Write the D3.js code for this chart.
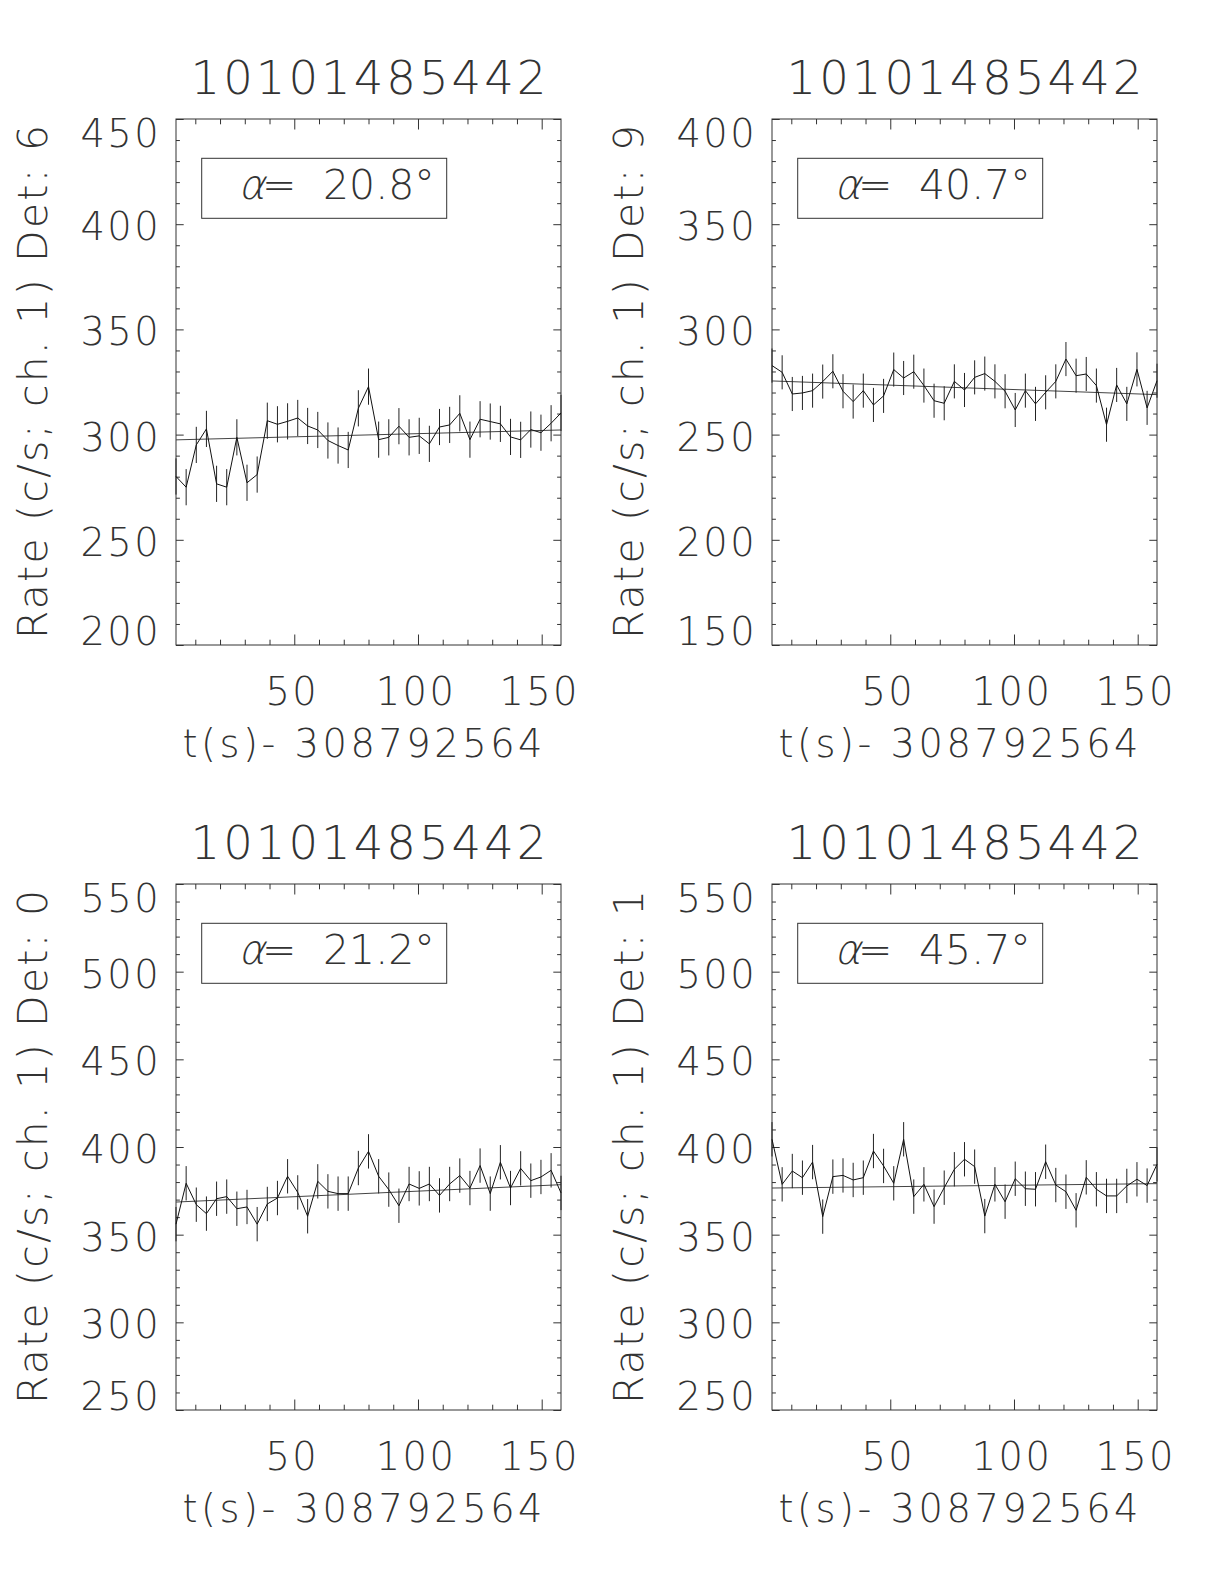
<!DOCTYPE html>
<html><head><meta charset="utf-8">
<script src="https://cdn.jsdelivr.net/npm/d3@7"></script>
<style>
html,body{margin:0;padding:0;background:#fff;}
svg text{font-family:"DejaVu Sans",sans-serif;font-weight:200;fill:#333;}
</style></head><body>
<svg id="chart" width="1224" height="1584"></svg>
<script>
// ---------------- data ----------------
const times = [2.2, 6.3, 10.4, 14.5, 18.6, 22.7, 26.8, 30.9, 35.0, 39.1, 43.2, 47.3, 51.4, 55.4, 59.5, 63.6, 67.7, 71.8, 75.9, 80.0,
  84.1, 88.2, 92.3, 96.4, 100.5, 104.6, 108.7, 112.8, 116.9, 121.0, 125.1, 129.2, 133.3, 137.4, 141.5, 145.6, 149.7, 153.8, 157.8];
const rateDet6 = [280.1, 275.0, 295.1, 302.7, 276.6, 275.0, 298.7, 277.1, 281.0, 306.6, 304.9, 306.3, 307.9, 304.1, 302.2, 297.2, 294.8, 292.7, 312.5, 322.8,
  297.6, 298.7, 304.0, 298.7, 299.4, 295.6, 303.6, 304.6, 310.1, 297.6, 307.3, 306.2, 305.1, 298.9, 297.5, 302.4, 300.9, 305.4, 310.3];
const rateDet9 = [282.8, 279.6, 269.3, 269.8, 270.9, 275.2, 280.1, 270.6, 265.7, 270.9, 264.1, 268.4, 280.9, 276.9, 279.9, 273.3, 266.1, 264.9, 275.3, 271.2,
  277.2, 279.0, 275.3, 270.6, 261.7, 270.9, 264.6, 270.1, 275.3, 285.9, 278.0, 278.8, 273.3, 254.7, 273.6, 264.6, 281.0, 262.7, 275.6];
const rateDet0 = [356.0, 379.3, 367.1, 362.0, 370.5, 371.7, 364.8, 365.8, 356.0, 367.5, 370.9, 383.3, 374.1, 360.5, 380.4, 374.7, 373.4, 373.4, 388.0, 397.5,
  383.3, 375.7, 366.5, 378.9, 376.4, 378.9, 372.4, 378.9, 383.7, 376.6, 389.4, 373.4, 391.3, 376.6, 387.8, 380.8, 382.9, 386.7, 373.8];
const rateDet1 = [404.4, 378.7, 386.3, 382.5, 391.4, 360.3, 383.1, 383.8, 381.2, 382.5, 397.7, 389.2, 379.3, 404.4, 371.7, 378.7, 366.0, 376.8, 387.3, 393.0,
  388.8, 360.6, 378.7, 368.8, 381.9, 376.2, 375.9, 391.6, 378.3, 374.5, 363.9, 382.7, 375.9, 372.1, 372.1, 377.8, 381.6, 378.0, 390.1];
const errHalf = [8.6, 8.1, 9.8, 9.8];
const fitStart = [297.5, 275.5, 368.6, 376.6];
const fitEnd = [302.2, 269.0, 378.5, 379.1];
const titles = ["10101485442", "10101485442", "10101485442", "10101485442"];
const detectors = ["6", "9", "0", "1"];
const alphas = ["20.8", "40.7", "21.2", "45.7"];
const yMin = [200, 150, 250, 250];
const yMax = [450, 400, 550, 550];
const yTickLabels = [[200, 250, 300, 350, 400, 450], [150, 200, 250, 300, 350, 400],
  [250, 300, 350, 400, 450, 500, 550], [250, 300, 350, 400, 450, 500, 550]];
const xTickLabels = [50, 100, 150];
const xLabel = "t(s)- 308792564";
const seriesList = [rateDet6, rateDet9, rateDet0, rateDet1];

// ---------------- layout ----------------
const W = 385, H = 526;
const origins = [[176, 119], [772, 119], [176, 884], [772, 884]];
const svg = d3.select("#chart");
svg.append("rect").attr("width", 1224).attr("height", 1584).attr("fill", "#fff");

seriesList.forEach((vals, p) => {
  const [L, T] = origins[p];
  const g = svg.append("g").attr("transform", `translate(${L},${T})`);
  const x = d3.scaleLinear().domain([times[0], times[times.length - 1]]).range([0, W]);
  const y = d3.scaleLinear().domain([yMin[p], yMax[p]]).range([H, 0]);

  const xMinor = d3.range(10, times[times.length - 1], 10).filter(v => v % 50 !== 0 && v > times[0]);
  const yMinor = d3.range(yMin[p] + 10, yMax[p], 10).filter(v => v % 50 !== 0);
  const yMajor = yTickLabels[p];

  const axStyle = sel => {
    sel.select(".domain").remove();
    sel.selectAll("line").attr("stroke", "#333").attr("stroke-width", 1);
  };
  g.append("g").attr("transform", `translate(0,${H})`).call(d3.axisBottom(x).tickValues(xMinor).tickSize(-5.3).tickFormat("")).call(axStyle);
  g.append("g").attr("transform", `translate(0,${H})`).call(d3.axisBottom(x).tickValues(xTickLabels).tickSize(-10.5).tickFormat("")).call(axStyle);
  g.append("g").call(d3.axisTop(x).tickValues(xMinor).tickSize(-5.3).tickFormat("")).call(axStyle);
  g.append("g").call(d3.axisTop(x).tickValues(xTickLabels).tickSize(-10.5).tickFormat("")).call(axStyle);
  g.append("g").call(d3.axisLeft(y).tickValues(yMinor).tickSize(-3.9).tickFormat("")).call(axStyle);
  g.append("g").call(d3.axisLeft(y).tickValues(yMajor).tickSize(-7.7).tickFormat("")).call(axStyle);
  g.append("g").attr("transform", `translate(${W},0)`).call(d3.axisRight(y).tickValues(yMinor).tickSize(-3.9).tickFormat("")).call(axStyle);
  g.append("g").attr("transform", `translate(${W},0)`).call(d3.axisRight(y).tickValues(yMajor).tickSize(-7.7).tickFormat("")).call(axStyle);

  g.append("rect").attr("x", 0).attr("y", 0).attr("width", W).attr("height", H)
    .attr("fill", "none").attr("stroke", "#333").attr("stroke-width", 1);

  // y tick labels
  g.selectAll(".ylab").data(yMajor).join("text")
    .attr("class", "ylab")
    .attr("text-anchor", "end")
    .attr("x", -15)
    .attr("y", v => { let c = y(v) + 2; c = Math.max(14, Math.min(H - 14, c)); return c + 14; })
    .style("font-size", "38.4px").style("letter-spacing", "2.4px")
    .text(v => v);

  // x tick labels
  g.selectAll(".xlab").data(xTickLabels).join("text")
    .attr("class", "xlab")
    .attr("text-anchor", "middle")
    .attr("x", v => x(v) - 2)
    .attr("y", H + 60)
    .style("font-size", "38.4px").style("letter-spacing", "2.4px")
    .text(v => v);

  // x axis title
  g.append("text").attr("text-anchor", "middle").attr("x", 186.5).attr("y", H + 112)
    .attr("textLength", 360).attr("lengthAdjust", "spacing")
    .style("font-size", "38.4px").text(xLabel);

  // y axis title
  g.append("text").attr("text-anchor", "middle")
    .attr("transform", `translate(-129,${H / 2}) rotate(-90)`)
    .attr("textLength", 514).attr("lengthAdjust", "spacing")
    .style("font-size", "41px").text(`Rate (c/s; ch. 1) Det: ${detectors[p]}`);

  // title
  g.append("text").attr("text-anchor", "middle").attr("x", W / 2).attr("y", -25)
    .attr("textLength", 356).attr("lengthAdjust", "spacing")
    .style("font-size", "46.6px").text(titles[p]);

  // alpha box
  g.append("rect").attr("x", 25.7).attr("y", 39.3).attr("width", 245).attr("height", 60)
    .attr("fill", "none").attr("stroke", "#333").attr("stroke-width", 1);
  g.append("text").attr("transform", "translate(62,80) skewX(-14)")
    .style("font-size", "41px").text("α");
  const eq = g.append("text").attr("x", 86).attr("y", 80).style("font-size", "41px");
  eq.append("tspan").text("= ");
  eq.append("tspan").attr("x", 147).text(`${alphas[p]}°`);

  // fit line
  g.append("line")
    .attr("x1", x(times[0])).attr("x2", x(times[times.length - 1]))
    .attr("y1", y(fitStart[p])).attr("y2", y(fitEnd[p]))
    .attr("stroke", "#444").attr("stroke-width", 1);

  // error bars
  g.selectAll(".err").data(vals).join("line")
    .attr("class", "err")
    .attr("x1", (d, i) => x(times[i])).attr("x2", (d, i) => x(times[i]))
    .attr("y1", d => y(d - errHalf[p])).attr("y2", d => y(d + errHalf[p]))
    .attr("stroke", "#222").attr("stroke-width", 1);

  // data line
  g.append("path").datum(vals)
    .attr("d", d3.line().x((d, i) => x(times[i])).y(d => y(d)))
    .attr("fill", "none").attr("stroke", "#111").attr("stroke-width", 1);
});
</script>
</body></html>
